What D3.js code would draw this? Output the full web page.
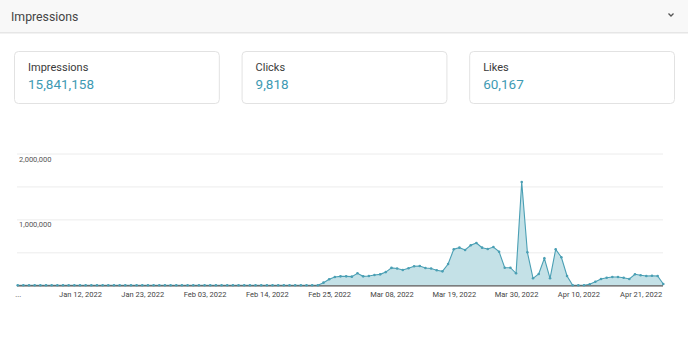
<!DOCTYPE html>
<html>
<head>
<meta charset="utf-8">
<script src="https://cdn.jsdelivr.net/npm/d3@7/dist/d3.min.js"></script>
<style>
  html, body { margin: 0; padding: 0; background: #fff; }
  svg { display: block; font-family: Roboto, "Noto Sans", sans-serif; }
</style>
</head>
<body>
<svg id="chart" width="688" height="340"></svg>
<script>
// Summary cards
const cardLabels = ["Impressions", "Clicks", "Likes"];
const cardValues = [15841158, 9818, 60167];

// Daily impressions, Jan 01 2022 .. Apr 25 2022
const startDate = "2022-01-01";
const impressions = [
  0, 0, 0, 0, 0, 0, 0, 0, 0, 0,
  0, 0, 0, 0, 0, 0, 0, 0, 0, 0,
  0, 0, 0, 0, 0, 0, 0, 0, 0, 0,
  0, 0, 0, 0, 0, 0, 0, 0, 0, 0,
  0, 0, 0, 0, 0, 0, 0, 0, 0, 0,
  0, 0, 0, 0, 40000, 91000, 125000, 136000, 136000, 131000,
  182000, 136000, 141000, 156000, 166000, 200000, 265000, 255000, 232000, 258000,
  288000, 293000, 262000, 255000, 228000, 212000, 323000, 546000, 571000, 536000,
  607000, 642000, 571000, 551000, 581000, 510000, 267000, 267000, 182000, 1568000,
  501000, 106000, 171000, 410000, 106000, 546000, 425000, 141000, 0, 0,
  0, 15000, 55000, 96000, 115000, 126000, 126000, 115000, 96000, 167000,
  152000, 141000, 146000, 141000, 20000
];

// X-axis tick dates and their labels
const tickDates = ["2022-01-01", "2022-01-12", "2022-01-23", "2022-02-03", "2022-02-14",
  "2022-02-25", "2022-03-08", "2022-03-19", "2022-03-30", "2022-04-10", "2022-04-21"];
const tickLabels = ["...", "Jan 12, 2022", "Jan 23, 2022", "Feb 03, 2022", "Feb 14, 2022",
  "Feb 25, 2022", "Mar 08, 2022", "Mar 19, 2022", "Mar 30, 2022", "Apr 10, 2022", "Apr 21, 2022"];

// Y gridlines and labelled values
const gridValues = [500000, 1000000, 1500000, 2000000];
const yLabelValues = [1000000, 2000000];

const parse = d3.utcParse("%Y-%m-%d");
const t0 = parse(startDate);
const data = impressions.map((v, i) => ({ date: d3.utcDay.offset(t0, i), value: v }));

const svg = d3.select("#chart");
const lineColor = "#4a9fb4";
const fillColor = "#c4e1e7";
const numFmt = d3.format(",");

// Header bar
svg.append("rect").attr("x", 0).attr("y", 0).attr("width", 688).attr("height", 32).attr("fill", "#f8f8f8");
svg.append("rect").attr("x", 0).attr("y", 32).attr("width", 688).attr("height", 1.5).attr("fill", "#e6e6e6");
svg.append("text").attr("x", 11).attr("y", 20.5).attr("font-size", 12.3).attr("fill", "#444")
  .text("Impressions");
svg.append("path").attr("d", "M668.5,13.5 L671,16 L673.5,13.5")
  .attr("fill", "none").attr("stroke", "#555").attr("stroke-width", 1.3);

// Cards
const cardX = d3.scaleBand().domain(cardLabels).range([14, 674]).paddingInner(0.1).paddingOuter(0);
const cards = svg.selectAll("g.card").data(cardLabels).join("g").attr("class", "card")
  .attr("transform", d => `translate(${cardX(d)},51)`);
cards.append("rect").attr("x", 0.5).attr("y", 0.5).attr("width", cardX.bandwidth()).attr("height", 52)
  .attr("rx", 4).attr("fill", "#fff").attr("stroke", "#e2e2e2");
cards.append("text").attr("x", 14).attr("y", 20).attr("font-size", 11).attr("fill", "#3a3a3a")
  .text(d => d);
cards.append("text").attr("x", 14).attr("y", 38).attr("font-size", 13.5).attr("fill", "#3e9ab3")
  .text((d, i) => numFmt(cardValues[i]));

// Scales
const x = d3.scaleUtc().domain([data[0].date, data[data.length - 1].date]).range([17.7, 663.3]);
const y = d3.scaleLinear().domain([0, 2000000]).range([285.3, 153.5]);

// Gridlines
svg.append("g").attr("transform", "translate(17,0)")
  .call(d3.axisLeft(y).tickValues(gridValues).tickSize(-646).tickFormat(""))
  .call(g => g.select(".domain").remove())
  .call(g => g.selectAll(".tick line").attr("stroke", "#ececec"));

// Y labels under their gridlines
svg.append("g").selectAll("text").data(yLabelValues).join("text")
  .attr("x", 19).attr("y", d => y(d) + 8).attr("font-size", 7.5).attr("fill", "#555")
  .text(d => numFmt(d));

// Area, line and points
svg.append("path").datum(data)
  .attr("fill", fillColor)
  .attr("d", d3.area().x(d => x(d.date)).y0(y(0)).y1(d => y(d.value)));
svg.append("path").datum(data)
  .attr("fill", "none").attr("stroke", lineColor).attr("stroke-width", 1.1)
  .attr("d", d3.line().x(d => x(d.date)).y(d => y(d.value)));

// X axis
svg.append("g").attr("transform", `translate(0,${y(0)})`)
  .call(d3.axisBottom(x).tickValues(tickDates.map(parse)).tickSize(0)
    .tickFormat((d, i) => tickLabels[i]))
  .call(g => g.select(".domain").attr("d", `M17,0.5H663`).attr("stroke", "#555").attr("stroke-width", 1.2))
  .call(g => g.selectAll(".tick text").attr("font-size", 7.5).attr("fill", "#444")
    .attr("dy", "1.1em").attr("font-family", "Roboto, sans-serif"));

svg.append("g").selectAll("circle").data(data).join("circle")
  .attr("cx", d => x(d.date)).attr("cy", d => y(d.value)).attr("r", 1.3).attr("fill", lineColor);
</script>
</body>
</html>
